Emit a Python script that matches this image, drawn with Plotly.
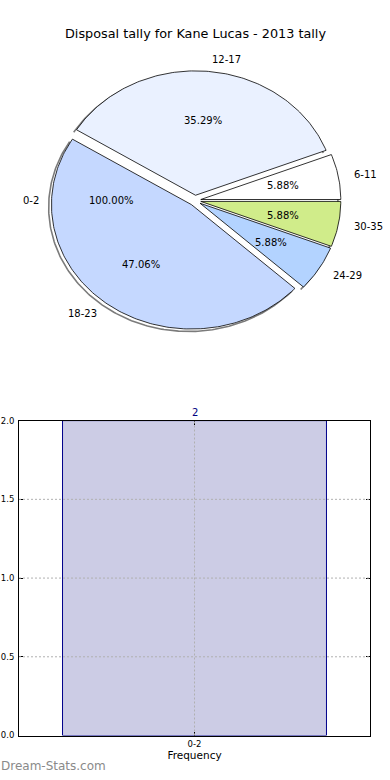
import numpy as np
import plotly.graph_objects as go

# ---- data ----
pie_labels = ["6-11", "12-17", "0-2", "18-23", "24-29", "30-35"]
pie_values = [1, 6, 0, 8, 1, 1]
pie_pct_text = ["5.88%", "35.29%", "100.00%", "47.06%", "5.88%", "5.88%"]
pie_colors = ["#ffffff", "#eaf1ff", "#ffffff", "#c5d8ff", "#b3d3ff", "#d0ec8a"]

bar_categories = ["0-2"]
bar_values = [2]
y_ticks = [0.0, 0.5, 1.0, 1.5, 2.0]

title = "Disposal tally for Kane Lucas - 2013 tally"
FONT = "DejaVu Sans"

# ---- figure geometry ----
W, H = 390, 780
CX, CY, RX, RY = 195.0, 198.0, 140.0, 126.0
EXPLODE = 0.042
SHADOW = -0.02

fig = go.Figure()

total = float(sum(pie_values))
angles = []
a = 0.0
for v in pie_values:
    span = 360.0 * v / total
    angles.append((a, a + span))
    a += span


def arc(t1, t2, ox, oy):
    n = max(2, int(abs(t2 - t1) / 1.0) + 2)
    th = np.radians(np.linspace(t1, t2, n))
    return ox + np.cos(th), oy + np.sin(th)


def wedge(t1, t2, ox, oy):
    ax, ay = arc(t1, t2, ox, oy)
    return (np.concatenate([[ox], ax, [ox]]), np.concatenate([[oy], ay, [oy]]))


# shadows: grey rim offset down-left, behind the wedges
for (t1, t2) in angles:
    if t2 - t1 <= 0:
        continue
    tm = np.radians((t1 + t2) / 2)
    ox, oy = EXPLODE * np.cos(tm) + SHADOW, EXPLODE * np.sin(tm) + SHADOW
    xs, ys = arc(t1, t2, ox, oy)
    fig.add_trace(go.Scatter(x=xs, y=ys, xaxis="x2", yaxis="y2", mode="lines",
                             line=dict(color="rgba(90,90,90,0.8)", width=1.6),
                             hoverinfo="skip", showlegend=False))

# wedges (zero-sized slices have no area to draw)
for (t1, t2), col, lab in zip(angles, pie_colors, pie_labels):
    if t2 - t1 <= 0:
        continue
    tm = np.radians((t1 + t2) / 2)
    ox, oy = EXPLODE * np.cos(tm), EXPLODE * np.sin(tm)
    xs, ys = wedge(t1, t2, ox, oy)
    fig.add_trace(go.Scatter(x=xs, y=ys, xaxis="x2", yaxis="y2", mode="lines",
                             fill="toself", fillcolor=col, line=dict(color="black", width=0.8),
                             name=lab, hoverinfo="name", showlegend=False))

annotations = []
for (t1, t2), lab, pct, v in zip(angles, pie_labels, pie_pct_text, pie_values):
    tm = np.radians((t1 + t2) / 2)
    ox, oy = EXPLODE * np.cos(tm), EXPLODE * np.sin(tm)
    ltm = np.radians(180.0) if v == 0 else tm
    lx, ly = 1.1 * np.cos(ltm), 1.1 * np.sin(ltm)
    if v != 0:
        lx += ox
        ly += oy
    annotations.append(dict(x=lx, y=ly, xref="x2", yref="y2", text=lab, showarrow=False,
                            xanchor="left" if lx > 0 else "right", yanchor="middle",
                            font=dict(family=FONT, size=10, color="black")))
    px, py = 0.6 * np.cos(ltm), 0.6 * np.sin(ltm)
    if v != 0:
        px += ox
        py += oy
    annotations.append(dict(x=px, y=py, xref="x2", yref="y2", text=pct, showarrow=False,
                            xanchor="center", yanchor="middle",
                            font=dict(family=FONT, size=10, color="black")))

annotations.append(dict(x=0.5, y=1 - 29 / H, xref="paper", yref="paper", text=title,
                        showarrow=False, xanchor="center", yanchor="middle",
                        font=dict(family=FONT, size=12.8, color="black")))

# ---- bar chart ----
fig.add_trace(go.Bar(x=bar_categories, y=bar_values, width=0.752,
                     marker=dict(color="#ccccE5", line=dict(color="#00008b", width=1)),
                     hoverinfo="x+y", showlegend=False))
for c, v in zip(bar_categories, bar_values):
    annotations.append(dict(x=c, y=v, xref="x", yref="y", text=str(v), showarrow=False,
                            xanchor="center", yanchor="bottom", yshift=1,
                            font=dict(family=FONT, size=10, color="#000080")))

annotations.append(dict(x=-1 / W, y=1 - 771 / H, xref="paper", yref="paper",
                        text="Dream-Stats.com", showarrow=False, xanchor="left",
                        yanchor="middle", font=dict(family=FONT, size=12, color="#8a8a8a")))

# dotted grid drawn above the bar (as in the reference)
GRID = dict(color="#b0b0b0", width=1, dash="2px,2px")
shapes = []
for t in y_ticks[1:-1]:
    shapes.append(dict(type="line", xref="x domain", yref="y", x0=0, x1=1, y0=t, y1=t,
                       line=GRID, layer="above"))
for c in bar_categories:
    shapes.append(dict(type="line", xref="x", yref="y domain", x0=c, x1=c, y0=0, y1=1,
                       line=GRID, layer="above"))

fig.update_layout(
    width=W, height=H, margin=dict(l=0, r=0, t=0, b=0),
    paper_bgcolor="white", plot_bgcolor="white",
    font=dict(family=FONT, color="black"),
    annotations=annotations,
    shapes=shapes,
    xaxis2=dict(domain=[0, 1], range=[-CX / RX, (W - CX) / RX], visible=False,
                anchor="y2", fixedrange=True),
    yaxis2=dict(domain=[0.5, 1], range=[-(390 - CY) / RY, CY / RY], visible=False,
                anchor="x2", fixedrange=True),
    xaxis=dict(domain=[19 / W, 370 / W], range=[-0.5, 0.5], type="category",
               showline=True, linecolor="black", linewidth=1, mirror="ticks",
               ticks="inside", ticklen=4, tickcolor="black",
               showgrid=False, layer="above traces",
               tickfont=dict(family=FONT, size=8.5, color="black"),
               title=dict(text="Frequency", font=dict(family=FONT, size=10.5, color="black"),
                          standoff=2),
               anchor="y", zeroline=False),
    yaxis=dict(domain=[1 - 740 / H, 1 - 421 / H], range=[0, 2],
               tickvals=y_ticks, ticktext=["%.1f" % t for t in y_ticks],
               showline=True, linecolor="black", linewidth=1, mirror="ticks",
               ticks="inside", ticklen=4, tickcolor="black",
               showgrid=False, layer="above traces",
               tickfont=dict(family=FONT, size=8.5, color="black"),
               anchor="x", zeroline=False, ticklabelstandoff=2),
)

fig.write_html("out.html", config={"displayModeBar": False},
               post_script="document.body.style.margin='0';")
